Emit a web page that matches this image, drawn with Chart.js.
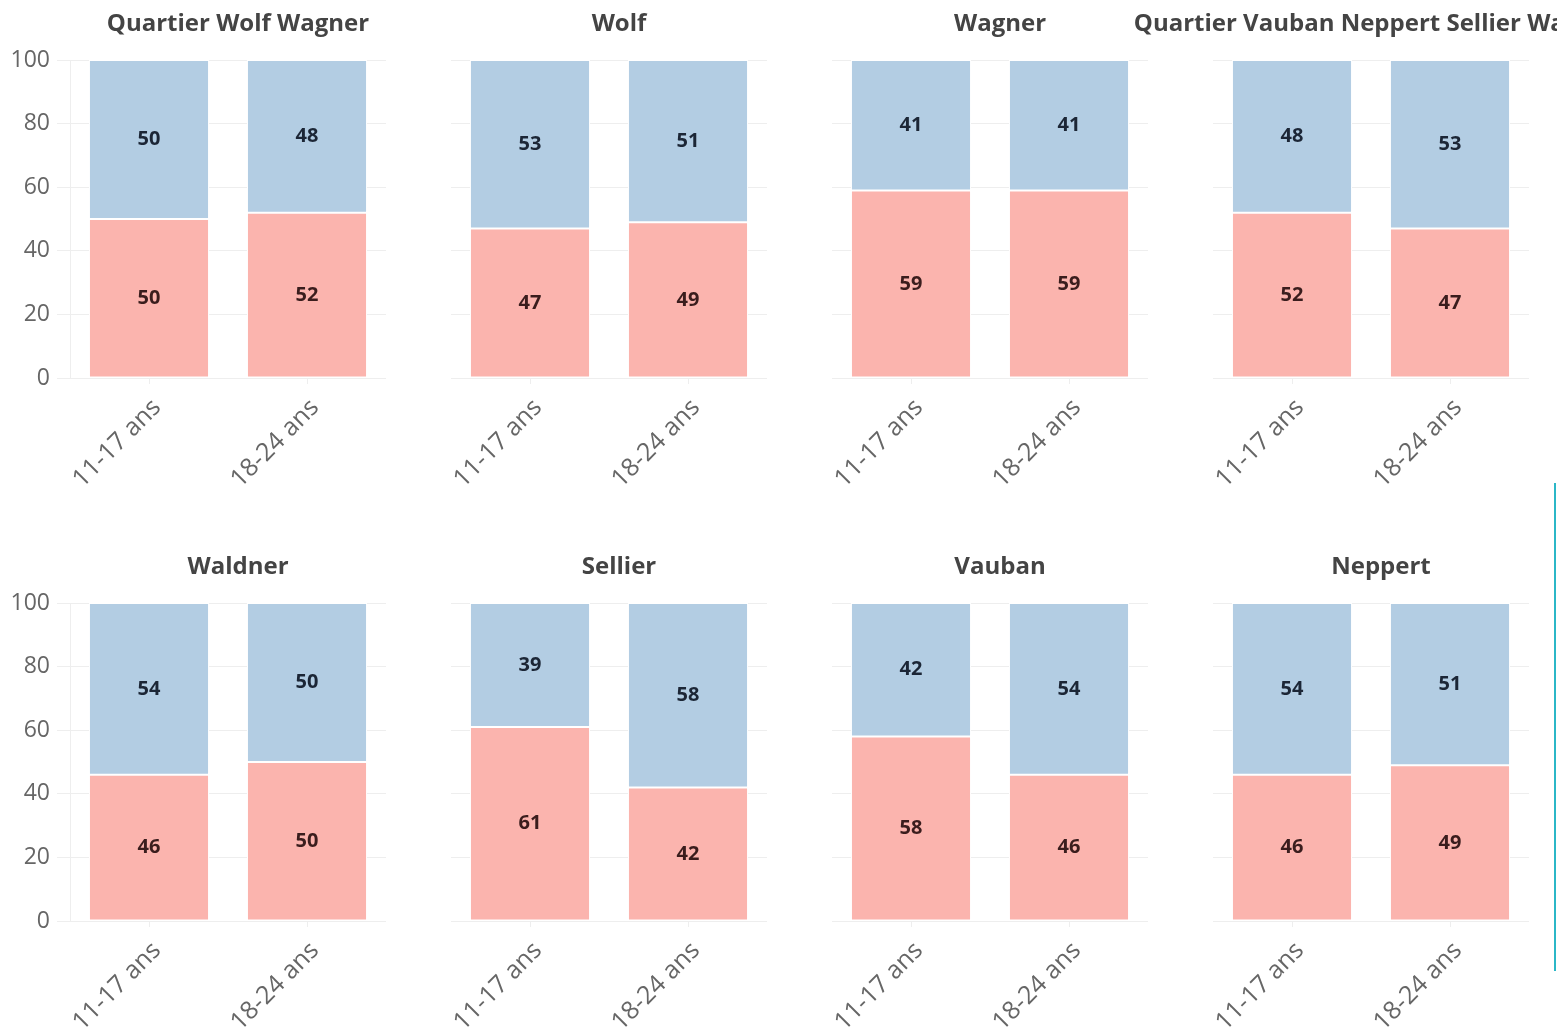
<!DOCTYPE html>
<html>
<head>
<meta charset="utf-8">
<script src="https://cdn.jsdelivr.net/npm/chart.js@4"></script>
<style>
  body { margin: 0; background: #fff; width: 1557px; height: 1036px; overflow: hidden; position: relative; }
  canvas { position: absolute; }
  #trait { position: absolute; left: 1554px; top: 483px; width: 2px; height: 488px; background: #2bb7c7; }
</style>
</head>
<body>
<div id="trait"></div>
<script>
// titres des panneaux, ligne par ligne
const quartiers = [
  "Quartier Wolf Wagner", "Wolf", "Wagner", "Quartier Vauban Neppert Sellier Waldner",
  "Waldner", "Sellier", "Vauban", "Neppert"
];
const tranches = ["11-17 ans", "18-24 ans"];

// segment du bas (rose) et du haut (bleu), en %
const partBas = [
  [50, 52], [47, 49], [59, 59], [52, 47],
  [46, 50], [61, 42], [58, 46], [46, 49]
];
const partHaut = [
  [50, 48], [53, 51], [41, 41], [48, 53],
  [54, 50], [39, 58], [42, 54], [54, 51]
];
const yTicks = [0, 20, 40, 60, 80, 100];

const ROSE = "#fbb4ae";
const BLEU = "#b3cde3";
const POLICE = "'Open Sans', Lato, sans-serif";

// valeurs écrites au centre de chaque segment
const etiquettes = {
  id: "etiquettes",
  afterDatasetsDraw(chart) {
    const ctx = chart.ctx;
    chart.data.datasets.forEach((ds, i) => {
      chart.getDatasetMeta(i).data.forEach((barre, j) => {
        const p = barre.getCenterPoint();
        ctx.save();
        ctx.font = "bold 20px " + POLICE;
        ctx.fillStyle = ds.couleurTexte;
        ctx.textAlign = "center";
        ctx.textBaseline = "middle";
        ctx.fillText(ds.data[j], p.x, p.y);
        ctx.restore();
      });
    });
  }
};

function gerarPanneau(idx) {
  const col = idx % 4, lig = Math.floor(idx / 4);
  const c = document.createElement("canvas");
  c.width = 560; c.height = 540;
  c.style.width = "560px"; c.style.height = "540px";
  c.style.left = (70 + 381 * col - 112) + "px";
  c.style.top = (543 * lig) + "px";
  document.body.appendChild(c);

  const premiere = col === 0;

  new Chart(c.getContext("2d"), {
    type: "bar",
    data: {
      labels: tranches,
      datasets: [
        {
          label: "bas", data: partBas[idx], backgroundColor: ROSE, couleurTexte: "#3a1d1d",
          borderColor: "#fff", borderWidth: 1, borderSkipped: false,
          barPercentage: 0.76, categoryPercentage: 1
        },
        {
          label: "haut", data: partHaut[idx], backgroundColor: BLEU, couleurTexte: "#1c2636",
          borderColor: "#fff", borderWidth: 1, borderSkipped: false,
          barPercentage: 0.76, categoryPercentage: 1
        }
      ]
    },
    options: {
      responsive: false,
      animation: false,
      layout: { padding: 0 },
      plugins: {
        legend: { display: false },
        tooltip: { enabled: false },
        title: {
          display: true,
          text: quartiers[idx],
          color: "#444",
          font: { family: POLICE, size: 24, weight: "bold" },
          lineHeight: 1.2,
          padding: { top: 9.6, bottom: 21.6 }
        }
      },
      scales: {
        x: {
          stacked: true,
          afterFit: s => { s.height = 162; },
          grid: { drawOnChartArea: false, offset: false, tickLength: 6, color: "#eee" },
          border: { display: false },
          ticks: {
            minRotation: 45, maxRotation: 45, padding: 9, labelOffset: 8,
            color: "#666", font: { family: POLICE, size: 25 }
          }
        },
        y: {
          stacked: true,
          min: 0, max: 100,
          afterFit: s => { s.width = 112; },
          afterBuildTicks: s => { s.ticks = yTicks.map(v => ({ value: v })); },
          grid: { color: "#eee", drawTicks: premiere, tickLength: 13 },
          border: { display: premiere, color: "#eee" },
          ticks: {
            display: premiere, padding: 7,
            color: "#666", font: { family: POLICE, size: 23 }
          }
        },
        // axe vide à droite : réserve la marge pour centrer le titre
        marge: {
          type: "linear", position: "right", min: 0, max: 100,
          afterFit: s => { s.width = 132; },
          grid: { display: false }, border: { display: false },
          ticks: { display: false }
        }
      }
    },
    plugins: [etiquettes]
  });
}

window.addEventListener("DOMContentLoaded", () => {
  quartiers.forEach((q, i) => gerarPanneau(i));
});
</script>
</body>
</html>
